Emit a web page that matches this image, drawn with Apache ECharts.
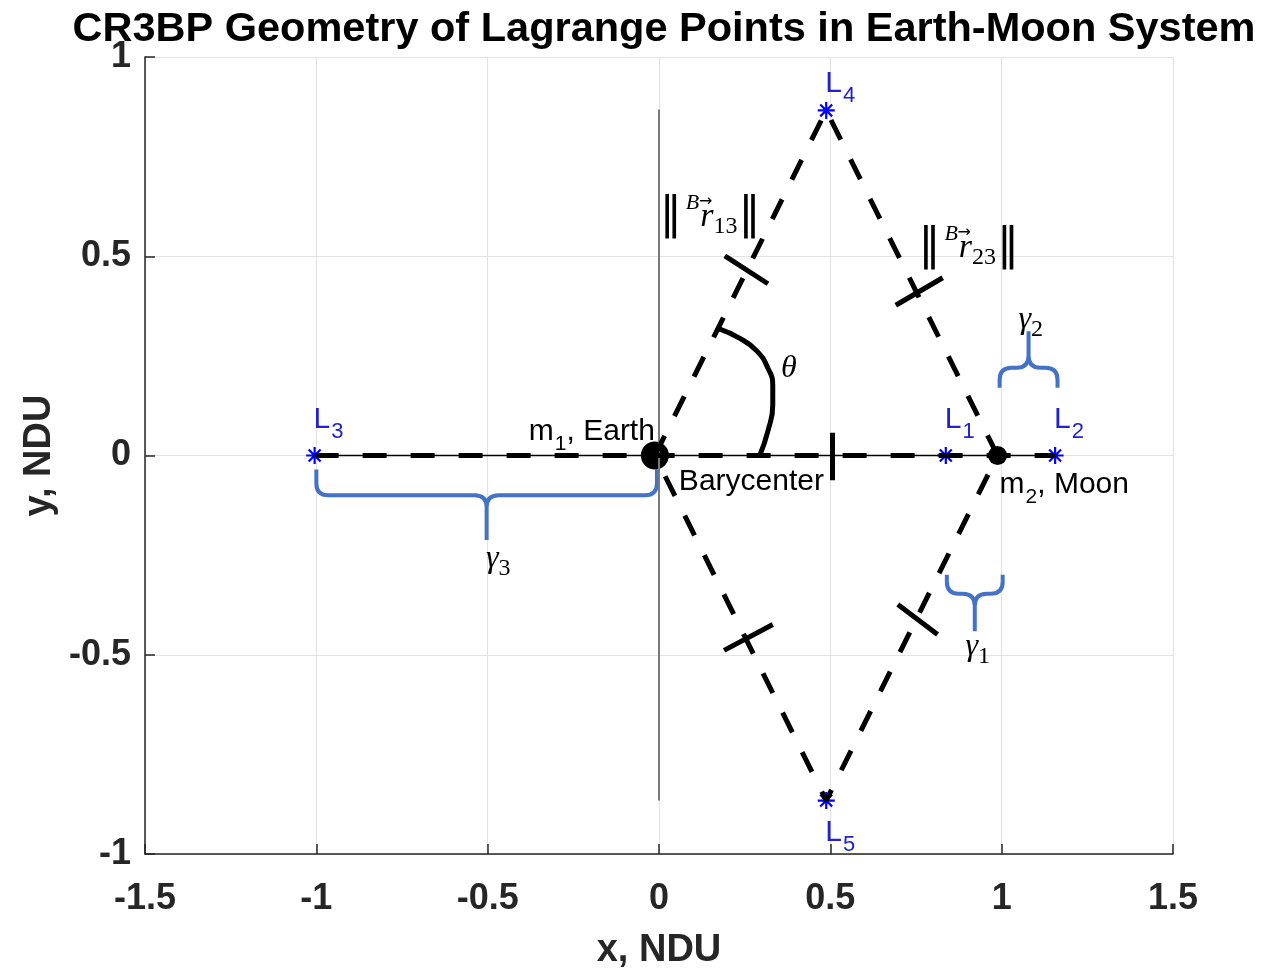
<!DOCTYPE html>
<html><head><meta charset="utf-8">
<script src="https://cdn.jsdelivr.net/npm/echarts@6/dist/echarts.min.js"></script>
<style>html,body{margin:0;padding:0;background:#fff;overflow:hidden}#c{width:1265px;height:975px}</style>
</head><body><div id="c"></div>
<script>
// ---- data (NDU) ----
const earthPos = [-0.012, 0];
const moonPos = [0.988, 0];
const lagrangeSubs = ['1', '2', '3', '4', '5'];
const lagrangeX = [0.837, 1.156, -1.005, 0.488, 0.488];
const lagrangeY = [0, 0, 0, 0.866, -0.866];

const xTicks = [-1.5, -1, -0.5, 0, 0.5, 1, 1.5];
const yTicks = [-1, -0.5, 0, 0.5, 1];

// line along the x axis from L3 to L2
const lineAxisX = [-1.005, 1.156];
const lineAxisY = [0, 0];
// triangles Earth-L4-Moon-L5-Earth
const triX = [-0.012, 0.488, 0.988, 0.488, -0.012];
const triY = [0, 0.866, 0, -0.866, 0];
// vertical barycenter line
const vertX = [0, 0];
const vertY = [0.868, -0.866];

// hash marks [x1, y1, x2, y2]
const hashMarks = [
  [0.192, 0.501, 0.318, 0.431],
  [0.691, 0.377, 0.828, 0.446],
  [0.190, -0.489, 0.332, -0.424],
  [0.697, -0.374, 0.813, -0.449],
  [0.505, 0.057, 0.505, -0.062]
];

// theta arc
const arcX = [0.172, 0.236, 0.286, 0.318, 0.332, 0.332, 0.318, 0.294];
const arcY = [0.319, 0.294, 0.262, 0.219, 0.177, 0.127, 0.062, 0];

// braces [x1, x2, yEnd, yMid, yTip]
const braces = [
  [-1.0, -0.006, -0.035, -0.100, -0.212],
  [0.994, 1.163, 0.170, 0.220, 0.312],
  [0.840, 1.003, -0.299, -0.347, -0.441]
];

// text annotations
const bodyLabels = ['{t|m}{s|1}{t|, Earth}', '{t|Barycenter}', '{t|m}{s|2}{t|, Moon}'];
const bodyLabelX = [-0.012, 0.058, 0.994];
const bodyLabelY = [0.060, -0.065, -0.073];

const mathLabels = ['{g|γ}{s|3}', '{g|γ}{s|2}', '{g|γ}{s|1}', '{g|θ}',
  '{b|‖}{sup|B}{r|r}{s|13}{b|‖}', '{b|‖}{sup|B}{r|r}{s|23}{b|‖}'];
const mathLabelX = [-0.469, 1.085, 0.930, 0.379, 0.149, 0.904];
const mathLabelY = [-0.259, 0.342, -0.479, 0.219, 0.599, 0.521];

// vector arrows above r
const arrowX = [0.136, 0.891];
const arrowY = [0.636, 0.559];

// ---- chart ----
const pts = (xs, ys) => xs.map((x, i) => [x, ys[i]]);
const SANS = 'Liberation Sans, Arial, sans-serif';
const SERIF = 'Liberation Serif, DejaVu Serif, serif';
const axisCol = '#262626';
const blank = { color: 'rgba(0,0,0,0)', opacity: 1 };

const chart = echarts.init(document.getElementById('c'));
chart.setOption({
  backgroundColor: '#fff',
  animation: false,
  title: {
    text: 'CR3BP Geometry of Lagrange Points in Earth-Moon System',
    left: 659, top: 4, textAlign: 'center',
    textStyle: { fontFamily: SANS, fontSize: 41.5, fontWeight: 'bold', color: '#000' }
  },
  grid: { left: 145, width: 1028, top: 57, height: 805, containLabel: false },
  xAxis: {
    type: 'value', min: xTicks[0], max: xTicks[xTicks.length - 1], interval: 0.5,
    name: 'x, NDU', nameLocation: 'middle', nameGap: 78,
    nameTextStyle: { fontFamily: SANS, fontSize: 38, fontWeight: 'bold', color: axisCol },
    axisLine: { show: true, onZero: false, lineStyle: { color: axisCol, width: 1.5 } },
    axisTick: { show: true, inside: true, length: 10, lineStyle: { color: axisCol, width: 1.5 } },
    axisLabel: { fontFamily: SANS, fontSize: 36, fontWeight: 'bold', color: axisCol, margin: 27 },
    splitLine: { show: true, lineStyle: { color: '#e3e3e3', width: 1.2 } }
  },
  yAxis: {
    type: 'value', min: yTicks[0], max: yTicks[yTicks.length - 1], interval: 0.5,
    name: 'y, NDU', nameLocation: 'middle', nameGap: 84,
    nameTextStyle: { fontFamily: SANS, fontSize: 38, fontWeight: 'bold', color: axisCol },
    axisLine: { show: true, onZero: false, lineStyle: { color: axisCol, width: 1.5 } },
    axisTick: { show: true, inside: true, length: 10, lineStyle: { color: axisCol, width: 1.5 } },
    axisLabel: { fontFamily: SANS, fontSize: 36, fontWeight: 'bold', color: axisCol, margin: 14 },
    splitLine: { show: true, lineStyle: { color: '#e3e3e3', width: 1.2 } }
  },
  series: [
    { type: 'line', data: pts(vertX, vertY), symbol: 'none', silent: true,
      lineStyle: { color: '#7a7a7a', width: 2 } },
    { type: 'line', data: pts(lineAxisX, lineAxisY), symbol: 'none', silent: true,
      lineStyle: { color: '#000', width: 1.5 } },
    { type: 'line', data: pts(lineAxisX, lineAxisY), symbol: 'none', silent: true,
      lineStyle: { color: '#000', width: 5, type: [24, 24], cap: 'butt' } },
    { type: 'line', data: pts(triX, triY), symbol: 'none', silent: true,
      lineStyle: { color: '#000', width: 5, type: [22, 22], cap: 'butt' } },
    { type: 'lines', coordinateSystem: 'cartesian2d', silent: true,
      data: hashMarks.map(h => ({ coords: [[h[0], h[1]], [h[2], h[3]]] })),
      lineStyle: { color: '#000', width: 5, opacity: 1 } },
    { type: 'line', data: pts(arcX, arcY), symbol: 'none', smooth: 0.5, silent: true,
      lineStyle: { color: '#000', width: 5 } },
    { type: 'custom', silent: true, data: braces,
      encode: { x: [0, 1], y: [2, 3, 4] },
      renderItem: function (params, api) {
        const x1 = api.value(0), x2 = api.value(1), ye = api.value(2), ym = api.value(3), yt = api.value(4);
        const p1 = api.coord([x1, ye]), p2 = api.coord([x2, ye]);
        const pm = api.coord([(x1 + x2) / 2, ym]), pt = api.coord([(x1 + x2) / 2, yt]);
        const a = p1[0], b = p2[0], c = pm[0], yE = p1[1], yM = pm[1], yT = pt[1];
        const s = Math.sign(yM - yE);
        const r = Math.min(12, Math.abs(yM - yE), (b - a) / 4);
        const d = 'M' + a + ',' + yE + ' L' + a + ',' + (yM - s * r) + ' Q' + a + ',' + yM + ' ' + (a + r) + ',' + yM +
          ' L' + (c - r) + ',' + yM + ' Q' + c + ',' + yM + ' ' + c + ',' + (yM + s * r) + ' L' + c + ',' + yT +
          ' M' + b + ',' + yE + ' L' + b + ',' + (yM - s * r) + ' Q' + b + ',' + yM + ' ' + (b - r) + ',' + yM +
          ' L' + (c + r) + ',' + yM + ' Q' + c + ',' + yM + ' ' + c + ',' + (yM + s * r);
        return { type: 'path', shape: { pathData: d },
          style: { fill: null, stroke: '#4472c4', lineWidth: 4, lineJoin: 'round' } };
      } },
    { type: 'scatter', silent: true, data: [earthPos], symbol: 'circle', symbolSize: 28,
      itemStyle: { color: '#000', opacity: 1 } },
    { type: 'scatter', silent: true, data: [moonPos], symbol: 'circle', symbolSize: 19,
      itemStyle: { color: '#000', opacity: 1 } },
    { type: 'scatter', silent: true,
      symbol: 'path://M10,0 L10,20 M0,10 L20,10 M3,3 L17,17 M3,17 L17,3',
      symbolSize: 17,
      itemStyle: { color: '#0000ff', borderColor: '#0000ff', borderWidth: 2.2, opacity: 1 },
      data: lagrangeX.map((x, i) => ({
        value: [x, lagrangeY[i]],
        label: {
          show: true, position: i === 4 ? 'bottom' : 'top', align: 'left',
          distance: i === 4 ? 0 : (i === 3 ? -6 : 3), offset: [-1, 0],
          formatter: '{l|L}{s|' + lagrangeSubs[i] + '}',
          rich: {
            l: { fontFamily: SANS, fontSize: 30, color: '#2121cf' },
            s: { fontFamily: SANS, fontSize: 22, color: '#2121cf', padding: [24, 0, 0, 1] }
          }
        }
      })) },
    { type: 'scatter', silent: true, symbolSize: 1, itemStyle: blank,
      data: bodyLabelX.map((x, i) => ({
        value: [x, bodyLabelY[i]],
        label: {
          show: true, position: 'inside', align: i === 0 ? 'right' : 'left', verticalAlign: 'middle',
          formatter: bodyLabels[i],
          rich: {
            t: { fontFamily: SANS, fontSize: 30, color: '#000' },
            s: { fontFamily: SANS, fontSize: 21, color: '#000', padding: [26, 0, 0, 1] }
          }
        }
      })) },
    { type: 'scatter', silent: true, symbolSize: 1, itemStyle: blank,
      data: mathLabelX.map((x, i) => ({
        value: [x, mathLabelY[i]],
        label: {
          show: true, position: 'inside', align: 'center', verticalAlign: 'middle',
          formatter: mathLabels[i],
          rich: {
            g: { fontFamily: SERIF, fontSize: 32, fontStyle: 'italic', color: '#000' },
            s: { fontFamily: SERIF, fontSize: 24, color: '#000', padding: [20, 0, 0, 0] },
            b: { fontFamily: 'DejaVu Sans, sans-serif', fontSize: 44, color: '#000', padding: [0, 1, 0, 1] },
            sup: { fontFamily: SERIF, fontSize: 22, fontStyle: 'italic', color: '#000', padding: [0, 1, 28, 3] },
            r: { fontFamily: SERIF, fontSize: 34, fontStyle: 'italic', color: '#000' }
          }
        }
      })) },
    { type: 'scatter', silent: true, symbolSize: 1, itemStyle: blank,
      data: arrowX.map((x, i) => ({
        value: [x, arrowY[i]],
        label: {
          show: true, position: 'inside', formatter: '\u2192',
          fontFamily: 'DejaVu Sans, sans-serif', fontSize: 16, color: '#000'
        }
      })) }
  ]
});
</script>
</body></html>
